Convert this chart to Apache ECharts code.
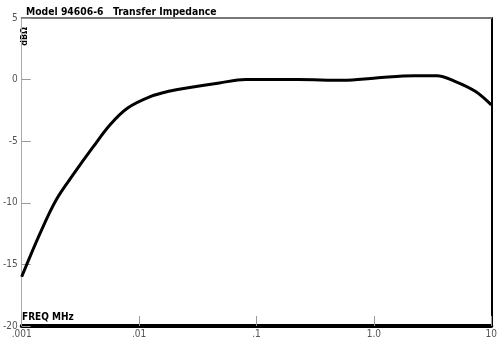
<!DOCTYPE html>
<html><head><meta charset="utf-8">
<script src="https://cdn.jsdelivr.net/npm/echarts@6/dist/echarts.min.js"></script>
<style>html,body{margin:0;padding:0;background:#fff}#c{width:500px;height:339px}</style>
</head><body><div id="c"></div>
<script>
var freqMHz = [0.001, 0.00143, 0.00197, 0.0028, 0.004, 0.00566, 0.008, 0.0126, 0.0178, 0.0254, 0.0483, 0.0804, 0.225, 0.55, 1.04, 2.2, 3.45, 4.9, 7.3, 10];
var impedanceDb = [-16.0, -12.5, -9.75, -7.6, -5.55, -3.66, -2.3, -1.36, -0.95, -0.68, -0.27, 0.0, 0.0, -0.05, 0.13, 0.32, 0.32, -0.14, -0.95, -2.05];
var xTickLabels = {"0.001": ".001", "0.01": ".01", "0.1": ".1", "1": "1.0", "10": "10"};
var titleText = "Model 94606-6   Transfer Impedance";
var yUnit = "dB\u03A9";
var xUnit = "FREQ MHz";

var chart = echarts.init(document.getElementById('c'), null, {renderer: 'canvas'});
var pts = freqMHz.map(function (f, i) { return [f, impedanceDb[i]]; });
function fmtX(v) {
  var k = String(+v.toPrecision(3));
  return xTickLabels[k] !== undefined ? xTickLabels[k] : '';
}
var cond = 'DejaVu Sans Condensed, Liberation Sans Narrow, sans-serif';
chart.setOption({
  animation: false,
  backgroundColor: '#fff',
  grid: {left: 18, right: 3, top: 18, bottom: 13, containLabel: false},
  title: {text: titleText, left: 21, top: 2,
    textStyle: {fontFamily: cond, fontWeight: 'bold', fontSize: 10.3, color: '#000'}},
  xAxis: [{
    type: 'log', logBase: 10, min: 0.001, max: 10,
    axisLine: {show: true, onZero: false, lineStyle: {color: '#000', width: 4}},
    axisTick: {show: true, inside: true, length: 10, lineStyle: {color: '#999', width: 1}},
    minorTick: {show: false},
    axisLabel: {formatter: fmtX, color: '#555', fontSize: 10, margin: 3, fontFamily: cond},
    splitLine: {show: false}
  }, {
    type: 'log', logBase: 10, min: 0.001, max: 10, position: 'top',
    axisLine: {show: true, onZero: false, lineStyle: {color: '#777', width: 2}},
    axisTick: {show: false}, axisLabel: {show: false}, splitLine: {show: false}
  }],
  yAxis: [{
    type: 'value', min: -20, max: 5, interval: 5,
    axisLine: {show: true, onZero: false, lineStyle: {color: '#aaa', width: 1}},
    axisTick: {show: true, inside: true, length: 9, lineStyle: {color: '#999'}},
    axisLabel: {color: '#555', fontSize: 10, margin: 4, fontFamily: cond},
    splitLine: {show: false}
  }, {
    type: 'value', min: -20, max: 5, interval: 5, position: 'right',
    axisLine: {show: true, onZero: false, lineStyle: {color: '#000', width: 2}},
    axisTick: {show: false}, axisLabel: {show: false}, splitLine: {show: false}
  }],
  graphic: [
    {type: 'text', left: 20, top: 27, rotation: Math.PI / 2,
      style: {text: yUnit, fill: '#000', font: 'bold 9px ' + cond}},
    {type: 'text', left: 22, top: 312,
      style: {text: xUnit, fill: '#000', font: 'bold 10px ' + cond}}
  ],
  series: [{
    type: 'line', data: pts, smooth: 0.35, showSymbol: false,
    lineStyle: {color: '#000', width: 3}
  }]
});
</script></body></html>
